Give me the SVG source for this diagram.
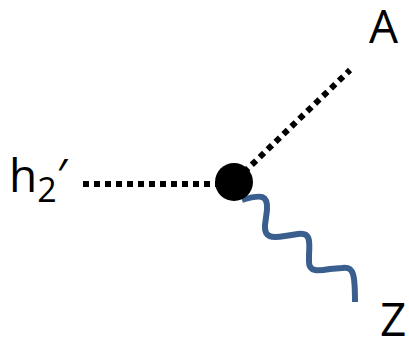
<svg xmlns="http://www.w3.org/2000/svg" width="409" height="337" viewBox="0 0 409 337">
<style>
.lbl{font-family:"Open Sans","DejaVu Sans",sans-serif;font-size:46px;fill:#000}
.dot{stroke:#000;stroke-width:6;stroke-dasharray:6 5;fill:none}
.wave{stroke:#3a5f8f;stroke-width:6;fill:none;stroke-linecap:butt}
</style>
<rect width="409" height="337" fill="#fff"/>
<g id="connectors">
<line class="dot" x1="83" y1="184" x2="218" y2="184"/>
<line class="dot" x1="236" y1="180" x2="350" y2="70"/>
<path class="wave" d="M242,200 C262,194 268,195 267,210 L265,225 C264,238 272,238 285,236 L298,234 C310,232 310,240 309,255 L309,262 C309,272 318,271 330,269 L342,268 C354,266 355,275 355,302"/>
</g>
<g id="vertex"><circle cx="234" cy="182" r="19" fill="#000"/></g>
<g id="h2"><text class="lbl" x="9" y="192">h<tspan font-size="34" dy="10">2</tspan><tspan dy="-10">′</tspan></text></g>
<g id="A"><text class="lbl" x="369" y="43">A</text></g>
<g id="Z"><text class="lbl" x="380" y="336">Z</text></g>
</svg>
